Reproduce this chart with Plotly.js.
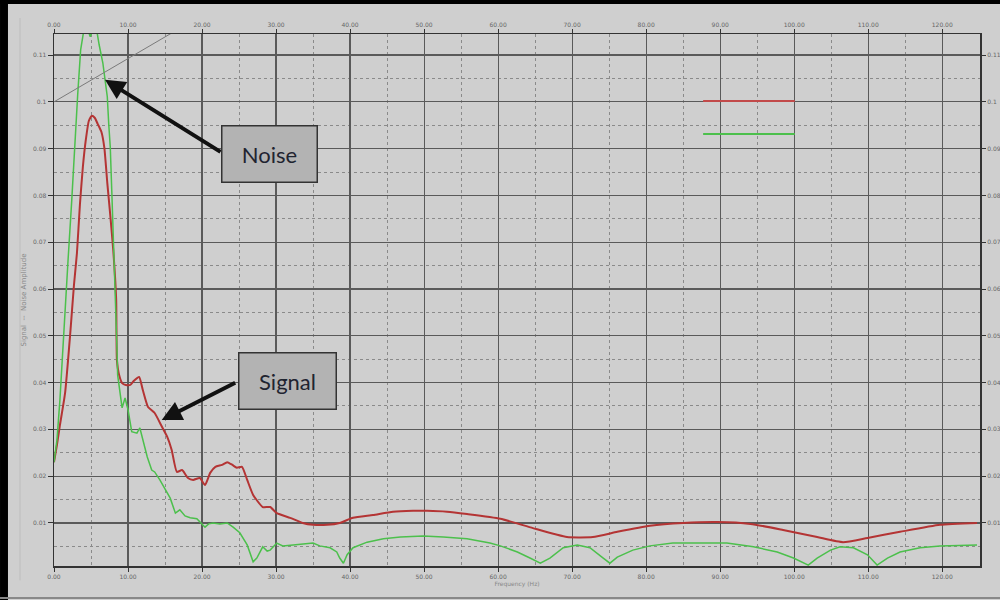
<!DOCTYPE html>
<html>
<head>
<meta charset="utf-8">
<script src="https://cdn.plot.ly/plotly-3.0.1.min.js"></script>
<style>html,body{margin:0;padding:0;background:#cfcfcf;}#chart{width:1000px;height:600px;}</style>
</head>
<body>
<div id="chart"></div>
<script>
// Signal (red) trace
const signalX = [0,0.4,0.8,1.5,2.2,2.7,3.1,3.5,3.9,4.3,4.7,5.1,5.5,5.9,6.4,6.8,7.2,7.6,8.0,8.4,8.5,8.8,9.2,9.7,10.3,10.8,11.5,12.0,12.7,13.6,14.6,15.3,15.9,16.6,17.3,18.1,18.8,19.7,20.4,21.1,21.8,22.7,23.4,24.1,24.7,25.4,26.1,26.9,28.2,29.2,30.1,31.9,33.6,35.0,36.9,38.6,40.4,43.1,45.8,48.5,50.4,53.1,55.8,60.3,64.7,69.3,72.8,76.1,80.5,85.0,89.6,94.1,98.5,103.1,106.6,109.9,114.3,119.7,124.7];
const signalY = [0.0230,0.0267,0.0309,0.0378,0.0506,0.0609,0.0677,0.0780,0.0861,0.0919,0.0959,0.0970,0.0966,0.0953,0.0936,0.0902,0.0827,0.0758,0.0684,0.0577,0.0448,0.0416,0.0399,0.0395,0.0395,0.0404,0.0412,0.0384,0.0348,0.0335,0.0305,0.0284,0.0256,0.0209,0.0213,0.0196,0.0192,0.0196,0.0181,0.0207,0.0220,0.0224,0.0230,0.0224,0.0218,0.0220,0.0192,0.0160,0.0134,0.0134,0.0121,0.0111,0.0100,0.0096,0.0096,0.0100,0.0111,0.0117,0.0124,0.0126,0.0126,0.0124,0.0119,0.0109,0.0089,0.0070,0.0070,0.0081,0.0094,0.0100,0.0102,0.0098,0.0085,0.0070,0.0059,0.0068,0.0081,0.0096,0.0100];
// Noise (green) trace
const noiseX = [0,0.4,0.8,1.4,1.9,2.4,2.8,3.2,3.6,4.0,4.4,4.9,5.4,5.8,6.1,6.4,6.6,6.9,7.2,7.4,7.6,7.8,8.0,8.2,8.5,8.6,8.9,9.2,9.6,10.0,10.5,11.2,11.6,12.0,12.6,13.2,13.6,14.3,15.0,15.7,16.4,17.0,17.7,18.4,19.3,20.4,20.9,21.5,22.4,23.4,24.2,25.1,26.1,26.9,27.4,28.2,28.8,29.2,30.1,30.9,32.3,34.2,35.0,35.9,37.3,38.2,38.6,39.1,39.6,40.4,42.3,44.5,46.8,49.9,52.6,55.8,58.9,60.3,62.6,64.3,65.7,67.0,68.8,70.7,72.4,74.2,75.1,76.1,78.2,80.5,83.6,87.3,90.9,94.5,97.7,99.9,101.9,103.1,104.9,106.2,108.0,109.9,111.2,112.6,114.3,117.0,119.7,124.7];
const noiseY = [0.0230,0.0277,0.0363,0.0513,0.0662,0.0790,0.0908,0.1015,0.1111,0.1150,0.1162,0.1139,0.1162,0.1150,0.1122,0.1100,0.1083,0.1047,0.1011,0.0951,0.0904,0.0812,0.0726,0.0619,0.0476,0.0416,0.0378,0.0346,0.0367,0.0342,0.0295,0.0292,0.0303,0.0277,0.0241,0.0213,0.0209,0.0192,0.0171,0.0153,0.0121,0.0128,0.0115,0.0111,0.0109,0.0091,0.0098,0.0100,0.0098,0.0100,0.0091,0.0079,0.0053,0.0017,0.0025,0.0049,0.0040,0.0042,0.0057,0.0051,0.0053,0.0055,0.0057,0.0051,0.0047,0.0038,0.0025,0.0014,0.0032,0.0047,0.0059,0.0066,0.0070,0.0072,0.0070,0.0066,0.0057,0.0051,0.0038,0.0025,0.0014,0.0025,0.0047,0.0053,0.0047,0.0025,0.0014,0.0027,0.0042,0.0051,0.0057,0.0057,0.0057,0.0049,0.0038,0.0025,0.0010,0.0025,0.0042,0.0049,0.0047,0.0032,0.0010,0.0025,0.0038,0.0047,0.0051,0.0053];
// Grey reference line
const refX = [0, 16];
const refY = [0.1, 0.1148];
// Axis ticks
const xTicks = [0,10,20,30,40,50,60,70,80,90,100,110,120];
const yTicks = [0.01,0.02,0.03,0.04,0.05,0.06,0.07,0.08,0.09,0.1,0.11];
const xRange = [0, 125.1];
const yRange = [0.0008, 0.1145];

const tickFont = {family: 'DejaVu Sans', size: 6, color: '#666'};
const gridMajor = '#5a5a5a';
const gridMinor = '#8a8a8a';

const traces = [
  {x: signalX, y: signalY, type: 'scatter', mode: 'lines', name: 'Signal',
   line: {color: '#b43434', width: 2, shape: 'spline', smoothing: 0.5}, hoverinfo: 'skip'},
  {x: noiseX, y: noiseY, type: 'scatter', mode: 'lines', name: 'Noise',
   line: {color: '#4cc04c', width: 1.5}, hoverinfo: 'skip'},
  {x: refX, y: refY, type: 'scatter', mode: 'lines', name: 'Ref',
   xaxis: 'x2', yaxis: 'y2', line: {color: '#7a7a7a', width: 1}, hoverinfo: 'skip'}
];

const layout = {
  width: 1000, height: 600,
  margin: {l: 54, r: 20, t: 34, b: 34},
  paper_bgcolor: '#cfcfcf', plot_bgcolor: '#cfcfcf',
  showlegend: false,
  xaxis: {
    range: xRange, tickmode: 'array', tickvals: xTicks, tickformat: '.2f',
    tickfont: tickFont, ticks: 'outside', ticklen: 4, tickcolor: '#333',
    showline: true, linecolor: '#333', linewidth: 1.5, mirror: true,
    showgrid: true, gridcolor: gridMajor, gridwidth: 1.2, zeroline: false,
    minor: {dtick: 5, tick0: 0, showgrid: true, gridcolor: gridMinor, griddash: 'dot', gridwidth: 1},
    title: {text: 'Frequency (Hz)', font: {family: 'DejaVu Sans', size: 6, color: '#888'}, standoff: 0}
  },
  xaxis2: {
    range: xRange, overlaying: 'x', side: 'top', tickmode: 'array', tickvals: xTicks, tickformat: '.2f',
    tickfont: tickFont, ticks: 'outside', ticklen: 4, tickcolor: '#333',
    showgrid: false, zeroline: false, showline: false
  },
  yaxis: {
    range: yRange, tickmode: 'array', tickvals: yTicks,
    tickfont: tickFont, ticks: 'outside', ticklen: 5, tickcolor: '#333',
    showline: true, linecolor: '#333', linewidth: 1.5, mirror: true,
    showgrid: true, gridcolor: gridMajor, gridwidth: 1.2, zeroline: false,
    minor: {dtick: 0.005, tick0: 0, showgrid: true, gridcolor: gridMinor, griddash: 'dot', gridwidth: 1},
    title: {text: 'Signal  --  Noise Amplitude', font: {family: 'DejaVu Sans', size: 7, color: '#888'}, standoff: 5}
  },
  yaxis2: {
    range: yRange, overlaying: 'y', side: 'right', tickmode: 'array', tickvals: yTicks,
    tickfont: tickFont, ticks: 'outside', ticklen: 5, tickcolor: '#333',
    showgrid: false, zeroline: false, showline: false
  },
  shapes: [
    // legend keys
    {type: 'line', xref: 'paper', yref: 'paper', x0: 0.701, x1: 0.800, y0: 0.874, y1: 0.874, line: {color: '#c24a4a', width: 2}},
    {type: 'line', xref: 'paper', yref: 'paper', x0: 0.701, x1: 0.800, y0: 0.812, y1: 0.812, line: {color: '#4cc04c', width: 2}},
    // outer screenshot frame
    {type: 'rect', xref: 'paper', yref: 'paper', x0: -0.0583, x1: -0.0497, y0: -0.0639, y1: 1.0639, fillcolor: '#000', line: {width: 0}},
    {type: 'rect', xref: 'paper', yref: 'paper', x0: -0.0583, x1: 1.0216, y0: 1.0564, y1: 1.0639, fillcolor: '#000', line: {width: 0}},
    {type: 'line', xref: 'paper', yref: 'paper', x0: -0.0583, x1: 1.0216, y0: -0.0602, y1: -0.0602, line: {color: '#888', width: 2}},
    {type: 'line', xref: 'paper', yref: 'paper', x0: -0.0367, x1: -0.0367, y0: -0.027, y1: 1.03, line: {color: '#bdbdbd', width: 1}}
  ],
  annotations: [
    // arrows
    {x: 6.89, y: 0.1047, xref: 'x', yref: 'y', text: ' ', font: {size: 1}, showarrow: true,
     ax: 117, ay: 73, arrowhead: 2, arrowsize: 1, arrowwidth: 4, arrowcolor: '#111'},
    {x: 14.55, y: 0.0320, xref: 'x', yref: 'y', text: ' ', font: {size: 1}, showarrow: true,
     ax: 75, ay: -38, arrowhead: 2, arrowsize: 1, arrowwidth: 4, arrowcolor: '#111'},
    // labels
    {x: 0.2327, y: 0.7744, xref: 'paper', yref: 'paper', xanchor: 'center', yanchor: 'middle',
     text: 'Noise', showarrow: false, width: 92, height: 53, borderpad: 1, borderwidth: 1.5,
     bordercolor: '#333', bgcolor: '#b3b3b3', font: {family: 'Lato', size: 22, color: '#1f2430'}},
    {x: 0.2522, y: 0.3483, xref: 'paper', yref: 'paper', xanchor: 'center', yanchor: 'middle',
     text: 'Signal', showarrow: false, width: 94, height: 53, borderpad: 1, borderwidth: 1.5,
     bordercolor: '#333', bgcolor: '#b3b3b3', font: {family: 'Lato', size: 22, color: '#1f2430'}}
  ]
};

Plotly.newPlot('chart', traces, layout, {staticPlot: true, displayModeBar: false});
</script>
</body>
</html>
